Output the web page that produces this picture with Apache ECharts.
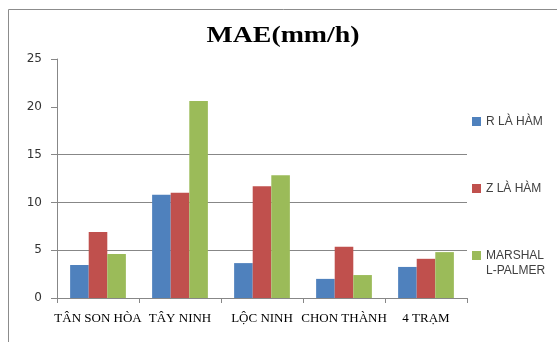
<!DOCTYPE html>
<html>
<head>
<meta charset="utf-8">
<script src="https://cdn.jsdelivr.net/npm/echarts@6/dist/echarts.min.js"></script>
<style>
  html, body { margin: 0; padding: 0; background: #fff; }
  #chart { width: 557px; height: 342px; }
</style>
</head>
<body>
<div id="chart"></div>
<script>
// Stations (x-axis categories)
var stations = ['TÂN SON HÒA', 'TÂY NINH', 'LỘC NINH', 'CHON THÀNH', '4 TRẠM'];

// Series names
var seriesNames = ['R LÀ HÀM', 'Z LÀ HÀM', 'MARSHALL-PALMER'];

// MAE values (mm/h) for each method
var rFunc = [3.45, 10.8, 3.65, 2.0, 3.25];
var zFunc = [6.9, 11.0, 11.7, 5.35, 4.1];
var marshallPalmer = [4.6, 20.6, 12.85, 2.4, 4.8];

// Horizontal reference lines on the value axis
var gridValues = [5, 10, 15];

var colors = ['#4F81BD', '#C0504D', '#9BBB59'];

var legendFont = {
  fontFamily: 'Liberation Sans',
  fontSize: 12,
  color: '#404040'
};

var chart = echarts.init(document.getElementById('chart'));

function legendFor(name, top, formatter) {
  var lg = {
    data: [name],
    orient: 'vertical',
    left: 467,
    top: top,
    itemWidth: 9,
    itemHeight: 9,
    icon: 'rect',
    selectedMode: false,
    textStyle: legendFont
  };
  if (formatter) lg.formatter = formatter;
  return lg;
}

var option = {
  animation: false,
  color: colors,
  graphic: [
    {
      type: 'rect',
      shape: { x: 8.5, y: 9.5, width: 600, height: 400 },
      style: { fill: 'none', stroke: '#8c8c8c', lineWidth: 1 },
      silent: true
    },
    {
      type: 'text',
      x: 283,
      y: 36,
      scaleX: 1.16,
      style: {
        text: 'MAE(mm/h)',
        fontFamily: 'Liberation Serif',
        fontWeight: 'bold',
        fontSize: 24,
        fill: '#000',
        align: 'center',
        verticalAlign: 'middle'
      }
    },
    {
      // second line of the wrapped legend label
      type: 'text',
      x: 486,
      y: 271,
      style: {
        text: 'L-PALMER',
        fontFamily: legendFont.fontFamily,
        fontSize: legendFont.fontSize,
        fill: legendFont.color,
        align: 'left',
        verticalAlign: 'middle'
      }
    }
  ],
  legend: [
    legendFor(seriesNames[0], 110.5),
    legendFor(seriesNames[1], 177.5),
    legendFor(seriesNames[2], 244.5, function () { return 'MARSHAL'; })
  ],
  grid: {
    left: 57,
    right: 90,
    top: 59,
    bottom: 44
  },
  xAxis: {
    type: 'category',
    data: stations,
    axisLine: { lineStyle: { color: '#878787', width: 1 } },
    axisTick: { show: true, length: 5, lineStyle: { color: '#878787' } },
    axisLabel: {
      interval: 0,
      margin: 14,
      fontFamily: 'Liberation Serif',
      fontSize: 13,
      color: '#000'
    }
  },
  yAxis: {
    type: 'value',
    min: 0,
    max: 25,
    interval: 5,
    axisLine: { show: true, lineStyle: { color: '#878787', width: 1 } },
    axisTick: { show: true, length: 6, lineStyle: { color: '#878787' } },
    splitLine: { show: false },
    axisLabel: {
      margin: 15,
      fontFamily: 'DejaVu Sans',
      fontSize: 12,
      color: '#333'
    }
  },
  series: [
    {
      name: seriesNames[0],
      type: 'bar',
      data: rFunc,
      barGap: '0%',
      barCategoryGap: '32%',
      z: 3,
      markLine: {
        silent: true,
        symbol: 'none',
        label: { show: false },
        lineStyle: { color: '#878787', width: 1, type: 'solid' },
        z: 1,
        data: gridValues.map(function (v) { return { yAxis: v }; })
      }
    },
    { name: seriesNames[1], type: 'bar', data: zFunc, z: 3 },
    { name: seriesNames[2], type: 'bar', data: marshallPalmer, z: 3 }
  ]
};

chart.setOption(option);
</script>
</body>
</html>
